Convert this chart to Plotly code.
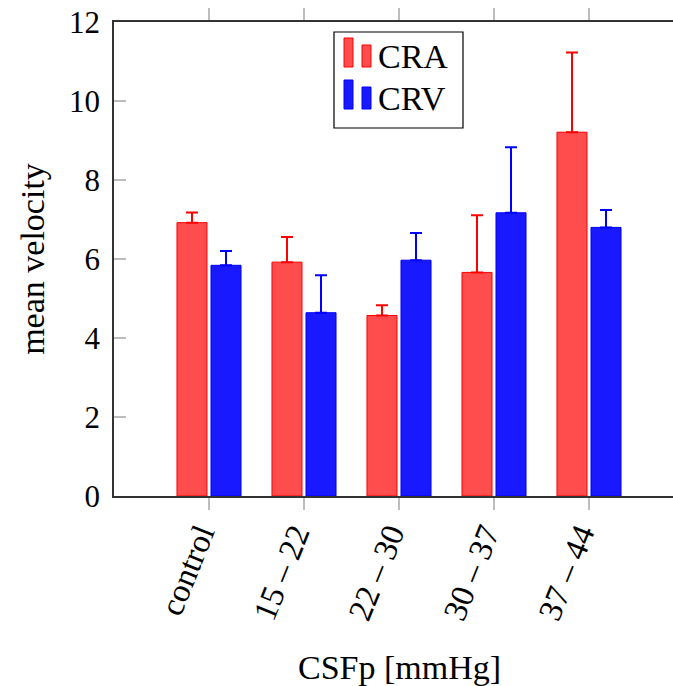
import plotly.graph_objects as go

# Data: mean velocity by CSF pressure group
categories = ["control", "15\u00a0–\u00a022", "22\u00a0–\u00a030",
              "30\u00a0–\u00a037", "37\u00a0–\u00a044"]
cra_mean = [6.92, 5.92, 4.57, 5.66, 9.21]
cra_err = [0.26, 0.64, 0.26, 1.45, 2.02]
crv_mean = [5.84, 4.64, 5.97, 7.17, 6.80]
crv_err = [0.36, 0.95, 0.69, 1.66, 0.44]
y_ticks = [0, 2, 4, 6, 8, 10, 12]

W, H = 673, 686
ML, MR, MT, MB = 114, 0, 22, 190
PW, PH = W - ML - MR, H - MT - MB

FONT = "Liberation Serif"
RED = "rgb(255,0,0)"
BLUE = "rgb(0,0,255)"
RED_FILL = "rgba(255,0,0,0.7)"
BLUE_FILL = "rgba(0,0,255,0.9)"


def px_x(p):
    return (p - ML) / PW


def px_y(p):
    return (H - MB - p) / PH


xs = list(range(len(categories)))

fig = go.Figure()
fig.add_trace(go.Bar(
    name="CRA", x=xs, y=cra_mean,
    marker=dict(color=RED_FILL, line=dict(color=RED, width=1)),
    error_y=dict(type="data", array=cra_err, arrayminus=[0] * len(cra_err),
                 symmetric=False, color=RED, thickness=2, width=6),
))
fig.add_trace(go.Bar(
    name="CRV", x=xs, y=crv_mean,
    marker=dict(color=BLUE_FILL, line=dict(color=BLUE, width=1)),
    error_y=dict(type="data", array=crv_err, arrayminus=[0] * len(crv_err),
                 symmetric=False, color=BLUE, thickness=2, width=6),
))

# Legend box with two-bar glyphs
shapes = [
    dict(type="rect", xref="paper", yref="paper",
         x0=px_x(334), x1=px_x(463), y0=px_y(128), y1=px_y(32),
         line=dict(color="black", width=1.2), fillcolor="white", layer="above"),
]
for (fill, edge, tops, bottom) in [
    (RED_FILL, RED, (38, 45), 67),
    (BLUE_FILL, BLUE, (80, 87), 109),
]:
    for (x0, x1), top in zip([(344, 353), (362, 371)], tops):
        shapes.append(dict(type="rect", xref="paper", yref="paper",
                           x0=px_x(x0), x1=px_x(x1), y0=px_y(bottom), y1=px_y(top),
                           line=dict(color=edge, width=1), fillcolor=fill,
                           layer="above"))

annotations = [
    dict(text="CRA", xref="paper", yref="paper", x=px_x(376), y=px_y(57),
         xanchor="left", yanchor="middle", showarrow=False,
         font=dict(family=FONT, size=34, color="black")),
    dict(text="CRV", xref="paper", yref="paper", x=px_x(376), y=px_y(98),
         xanchor="left", yanchor="middle", showarrow=False,
         font=dict(family=FONT, size=34, color="black")),
    dict(text="CSFp [mmHg]", xref="x", yref="paper", x=2, y=px_y(667),
         xanchor="center", yanchor="middle", showarrow=False,
         font=dict(family=FONT, size=34, color="black")),
]

fig.update_layout(
    width=W, height=H,
    margin=dict(l=ML, r=MR, t=MT, b=MB, pad=0),
    paper_bgcolor="white", plot_bgcolor="white",
    barmode="group", bargap=0.284, bargroupgap=0.117,
    showlegend=False,
    shapes=shapes, annotations=annotations,
    font=dict(family=FONT, color="black"),
)
fig.update_xaxes(
    range=[-1, -1 + PW / 95.0],
    tickmode="array", tickvals=xs, ticktext=categories,
    tickangle=-68, tickfont=dict(family=FONT, size=33, color="black"),
    ticks="outside", ticklen=12, tickwidth=1.5, tickcolor="#bdbdbd",
    ticklabelstandoff=-8, ticklabelshift=-9,
    showline=True, linecolor="#333333", linewidth=1.5, mirror="ticks",
    showgrid=False, zeroline=False,
)
fig.update_yaxes(
    range=[0, 12], tickvals=y_ticks,
    tickfont=dict(family=FONT, size=31, color="black"),
    ticks="inside", ticklen=12, tickwidth=1.5, tickcolor="#bdbdbd",
    ticklabelstandoff=6,
    showline=True, linecolor="#333333", linewidth=1.5,
    showgrid=False, zeroline=False,
    title=dict(text="mean velocity", font=dict(family=FONT, size=34, color="black"),
               standoff=14),
)

fig.write_html("out.html")
